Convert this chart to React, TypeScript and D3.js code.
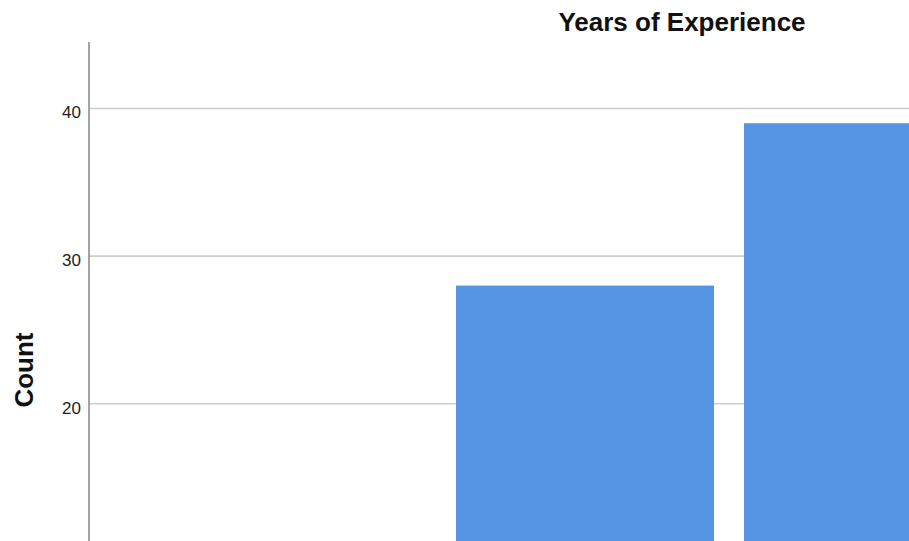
import React from "react";
import * as d3 from "d3";

const categories = ["6-10 years", "More than 10 years"];
const counts = [28, 39];
const yTicks = [20, 30, 40];
const title = "Years of Experience";
const yLabel = "Count";

const W = 909;
const H = 541;

export default function App() {
  const y = d3.scaleLinear().domain([0, 44.5]).range([699, 42]);
  const x = d3
    .scaleBand<string>()
    .domain(categories)
    .range([456, 1002])
    .paddingInner(30 / 288)
    .paddingOuter(0);
  const axisX = 89;
  const font = "'Liberation Sans', Arial, sans-serif";
  return (
    <svg
      width={W}
      height={H}
      style={{ position: "absolute", left: 0, top: 0, background: "#fff", overflow: "hidden" }}
      fontFamily={font}
    >
      <rect x={0} y={0} width={W} height={H} fill="#fff" />
      {yTicks.map((t) => (
        <g key={t}>
          <line x1={axisX} x2={W} y1={y(t)} y2={y(t)} stroke="#cdcdcd" strokeWidth={1.6} />
          <text x={81} y={y(t) + 10} textAnchor="end" fontSize={17} fill="#222">
            {t}
          </text>
        </g>
      ))}
      {categories.map((c, i) => (
        <rect
          key={c}
          x={x(c)}
          y={y(counts[i])}
          width={x.bandwidth()}
          height={y(0) - y(counts[i])}
          fill="#5695e2"
        />
      ))}
      <line x1={axisX} x2={axisX} y1={42} y2={H} stroke="#8c8c8c" strokeWidth={1.6} />
      <text x={682} y={31} textAnchor="middle" fontSize={26} fontWeight="bold" fill="#111">
        {title}
      </text>
      <text
        transform={`translate(33,370) rotate(-90)`}
        textAnchor="middle"
        fontSize={26}
        fontWeight="bold"
        fill="#111"
      >
        {yLabel}
      </text>
    </svg>
  );
}
